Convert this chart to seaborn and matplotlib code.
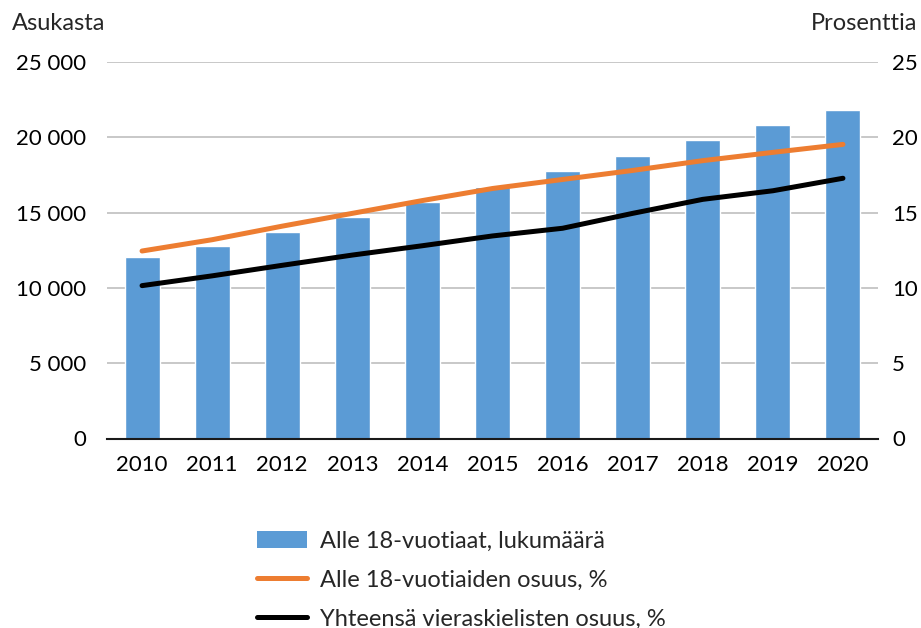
import matplotlib
matplotlib.use("Agg")
import matplotlib.pyplot as plt
import seaborn as sns
import numpy as np
import pandas as pd
from matplotlib.patches import Patch
from matplotlib.lines import Line2D

years = ["2010", "2011", "2012", "2013", "2014", "2015", "2016", "2017", "2018", "2019", "2020"]
alle18_count = [12060, 12780, 13710, 14700, 15680, 16700, 17780, 18760, 19820, 20800, 21840]
alle18_share = [12.45, 13.2, 14.1, 14.95, 15.8, 16.6, 17.2, 17.8, 18.45, 19.0, 19.53]
foreign_share = [10.15, 10.8, 11.5, 12.18, 12.8, 13.45, 13.96, 14.95, 15.88, 16.45, 17.28]

left_ticks = [0, 5000, 10000, 15000, 20000, 25000]
left_labels = ["0", "5 000", "10 000", "15 000", "20 000", "25 000"]
right_ticks = [0, 5, 10, 15, 20, 25]
legend_labels = ["Alle 18-vuotiaat, lukumäärä", "Alle 18-vuotiaiden osuus, %", "Yhteensä vieraskielisten osuus, %"]

BLUE = "#5B9BD5"
ORANGE = "#ED7D31"
BLACK = "#000000"
GRID = "#BFBFBF"

sns.set_theme(style="white")
plt.rcParams["font.family"] = ["Lato", "DejaVu Sans"]
FS_TICK = 16
FS_TEXT = 17

df = pd.DataFrame({"year": years, "count": alle18_count, "share": alle18_share, "foreign": foreign_share})

fig = plt.figure(figsize=(9.21, 6.28), dpi=100)
ax = fig.add_axes([107/921, 1-438.5/628, (878-107)/921, (438.5-62)/628])
sns.barplot(data=df, x="year", y="count", color=BLUE, width=0.5, saturation=1, ax=ax)
ax.set_ylim(0, 25000)
ax.set_yticks(left_ticks)
ax.set_yticklabels(left_labels)
ax.yaxis.grid(True, color=GRID, linewidth=1.2)
ax.set_axisbelow(True)
ax.set_xlabel("")
ax.set_ylabel("")
for s in ["top", "right", "left"]:
    ax.spines[s].set_visible(False)
ax.spines["bottom"].set_color("#1a1a1a")
ax.spines["bottom"].set_linewidth(1.5)
ax.tick_params(axis="both", length=0, labelsize=FS_TICK, colors="black")
ax.tick_params(axis="y", pad=15)
ax.tick_params(axis="x", pad=12)

ax2 = ax.twinx()
sns.pointplot(data=df, x="year", y="share", color=ORANGE, markers="", linestyles="-", ax=ax2, linewidth=3.6)
sns.pointplot(data=df, x="year", y="foreign", color=BLACK, markers="", linestyles="-", ax=ax2, linewidth=3.6)
for ln in ax2.lines:
    ln.set_solid_capstyle("round")
ax2.set_ylim(0, 25)
ax2.set_yticks(right_ticks)
ax2.set_ylabel("")
ax2.set_xlabel("")
for s in ["top", "right", "left", "bottom"]:
    ax2.spines[s].set_visible(False)
ax2.tick_params(axis="y", length=0, labelsize=FS_TICK, colors="black", pad=10)
ax2.grid(False)
ax.set_xlim(-0.5, len(years) - 0.5)
ax2.set_xlim(-0.5, len(years) - 0.5)

fig.text(12/921, 1-23/628, "Asukasta", fontsize=FS_TEXT, ha="left", va="center")
fig.text(917/921, 1-23/628, "Prosenttia", fontsize=FS_TEXT, ha="right", va="center")

handles = [Patch(facecolor=BLUE, edgecolor="none"),
           Line2D([0], [0], color=ORANGE, linewidth=3.6, solid_capstyle="round"),
           Line2D([0], [0], color=BLACK, linewidth=3.6, solid_capstyle="round")]
fig.legend(handles, legend_labels, loc="upper left", bbox_to_anchor=(257/921, 1-531/628),
           frameon=False, fontsize=FS_TEXT, handlelength=2.1, handleheight=0.76,
           handletextpad=0.55, labelspacing=0.75, borderpad=0, borderaxespad=0)

fig.savefig("out.png", dpi=100)
